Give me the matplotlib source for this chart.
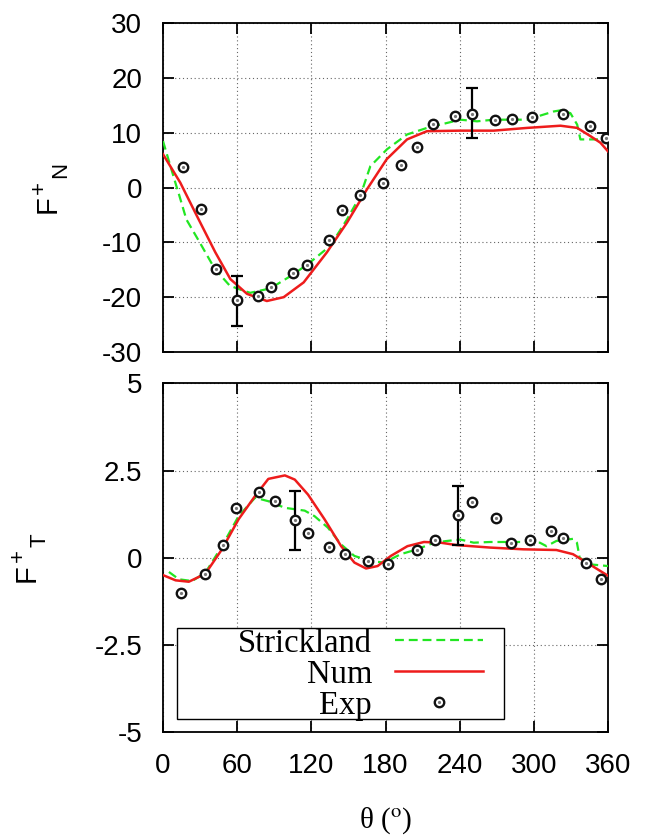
import matplotlib
matplotlib.use('Agg')
import matplotlib.pyplot as plt
from matplotlib.patches import Rectangle

# ---- datos ----
# F+N (panel superior)
exp_n_theta = [15.9, 30.5, 42.6, 59.6, 77.1, 87.6, 105.2, 116.8, 134.6, 144.8, 159.6, 178.2,
               192.8, 205.8, 218.2, 236.2, 249.7, 268.3, 282.6, 298.8, 323.8, 345.4, 358.6]
exp_n = [3.8, -3.9, -14.8, -20.6, -19.8, -18.2, -15.5, -14.2, -9.5, -4.1, -1.3, 0.8,
         4.1, 7.4, 11.6, 13.0, 13.5, 12.4, 12.5, 12.8, 13.4, 11.3, 9.1]
err_n_theta = [59.6, 249.7]
err_n_y = [-20.6, 13.5]
err_n_lo = [4.6, 4.5]
err_n_hi = [4.5, 4.7]

num_n_theta = [0, 14, 27.5, 42.3, 54.5, 68, 84, 97.6, 113.8, 132.6, 148.8, 165, 181, 197.4,
               213.5, 240.5, 267.5, 294.5, 321.5, 335, 345.7, 353.8, 360]
num_n = [6.1, 0.9, -5.2, -11.8, -16.7, -19.4, -20.7, -20.0, -17.3, -11.8, -6.4, -0.3, 5.2, 8.8,
         10.3, 10.4, 10.4, 10.9, 11.3, 10.9, 9.4, 8.2, 6.6]

str_n_theta = [0, 10.8, 12.1, 18.9, 29.7, 41.8, 54, 64.7, 70.6, 86.8, 105.7, 119.2, 135.4, 148.8,
               159.6, 167.7, 181.2, 197.4, 213.5, 229.7, 240.5, 254, 267.5, 294.5, 316, 321.4,
               329.5, 335, 337.6, 351, 360]
str_n = [8.5, 0.3, -0.6, -5.8, -10.0, -14.8, -17.9, -18.8, -19.2, -18.4, -15.8, -13.6, -10.6, -5.8,
         -1.5, 3.9, 7.0, 9.7, 10.9, 11.8, 12.4, 12.1, 12.4, 12.4, 13.9, 14.1,
         13.6, 11.5, 8.8, 8.8, 9.3]

# F+T (panel inferior)
exp_t_theta = [14.2, 34, 48.5, 58.9, 77.4, 90.3, 106.9, 117.6, 134.2, 147, 166, 181.9,
               205.4, 219.9, 238.7, 250.2, 269.5, 281.3, 296.8, 313.7, 323.6, 342, 354.6]
exp_t = [-1.0, -0.46, 0.35, 1.42, 1.88, 1.64, 1.07, 0.71, 0.31, 0.10, -0.10, -0.19,
         0.22, 0.52, 1.21, 1.59, 1.15, 0.41, 0.52, 0.76, 0.56, -0.16, -0.62]
err_t_theta = [106.9, 238.7]
err_t_y = [1.07, 1.21]
err_t_lo = [0.85, 0.85]
err_t_hi = [0.84, 0.84]

num_t_theta = [0, 10.2, 20.9, 34.3, 47.7, 61.1, 74.5, 85.2, 98.6, 106.6, 117.3, 130.7, 144.1,
               154.8, 164.2, 173.6, 184.3, 197.7, 211.1, 224.5, 237.9, 264.6, 291.4, 318.2,
               331.6, 345, 360]
num_t = [-0.50, -0.65, -0.69, -0.46, 0.24, 1.10, 1.77, 2.26, 2.36, 2.24, 1.81, 1.10, 0.33,
         -0.14, -0.31, -0.24, 0.05, 0.33, 0.45, 0.43, 0.36, 0.29, 0.24, 0.22,
         0.10, -0.19, -0.52]

str_t_theta = [4.8, 12.9, 23.6, 34.3, 47.7, 61.1, 74.5, 85.2, 98.6, 114.6, 122.6, 133.4, 144.1,
               154.8, 168.2, 178.9, 192.3, 205.7, 219.1, 229.8, 240.5, 251.3, 264.6, 291.4,
               304.8, 310.2, 318.2, 331.6, 334.8, 337, 345, 360]
str_t = [-0.41, -0.62, -0.67, -0.43, 0.33, 1.19, 1.72, 1.62, 1.43, 1.35, 1.19, 0.86, 0.38,
         0.05, -0.10, -0.14, 0.10, 0.24, 0.43, 0.48, 0.52, 0.43, 0.45, 0.45,
         0.43, 0.33, 0.48, 0.54, 0.43, 0.0, -0.19, -0.24]

x_ticks = [0, 60, 120, 180, 240, 300, 360]
yn_ticks = [-30, -20, -10, 0, 10, 20, 30]
yt_ticks = [-5, -2.5, 0, 2.5, 5]
yt_labels = ['-5', '-2.5', '0', '2.5', '5']

plt.rcParams['font.family'] = ['Liberation Sans', 'DejaVu Sans']
plt.rcParams['axes.unicode_minus'] = False

W, H = 646, 840
fig = plt.figure(figsize=(W / 100, H / 100), dpi=100)
ax_n = fig.add_axes([0.2523, 0.581, 0.689, 0.3913])
ax_t = fig.add_axes([0.2523, 0.1286, 0.689, 0.415])

green = '#22e622'
red = '#ee1c1c'


def style_axis(ax):
    ax.set_xlim(0, 360)
    ax.set_xticks(x_ticks)
    ax.grid(True, color='#666666', linewidth=0.8, linestyle=(0, (1, 2.5)))
    ax.set_axisbelow(True)
    ax.tick_params(direction='in', length=8, width=1.3, top=True, right=True,
                   labelsize=20, pad=15)
    for s in ax.spines.values():
        s.set_linewidth(1.3)


def draw_panel(ax, s_th, s_y, n_th, n_y, e_th, e_y, er_th, er_y, er_lo, er_hi):
    l_s, = ax.plot(s_th, s_y, color=green, linewidth=1.6, dashes=(4, 2.2), zorder=3)
    l_n, = ax.plot(n_th, n_y, color=red, linewidth=1.8, zorder=3)
    ax.errorbar(er_th, er_y, yerr=[er_lo, er_hi], fmt='none', ecolor='black',
                elinewidth=1.6, capsize=4, capthick=1.6, zorder=4)
    ring, = ax.plot(e_th, e_y, linestyle='none', marker='o', markersize=6.8,
                    markerfacecolor='white', markeredgecolor='#111111',
                    markeredgewidth=1.7, zorder=5)
    dot, = ax.plot(e_th, e_y, linestyle='none', marker='o', markersize=1.3,
                   markerfacecolor='#777777', markeredgecolor='#777777', zorder=6)
    return l_s, l_n, (ring, dot)


def rot_label(pieces):
    # etiqueta vertical armada a mano: (texto, x_px, y_px, tamaño)
    for txt, xp, yp, size in pieces:
        fig.text(xp / W, 1 - yp / H, txt, rotation=90, ha='center', va='center',
                 fontsize=size)


style_axis(ax_n)
draw_panel(ax_n, str_n_theta, str_n, num_n_theta, num_n, exp_n_theta, exp_n,
           err_n_theta, err_n_y, err_n_lo, err_n_hi)
ax_n.set_ylim(-30, 30)
ax_n.set_yticks(yn_ticks)
ax_n.tick_params(labelbottom=False)
rot_label([('F', 48, 204, 21), ('+', 39, 187, 16), ('N', 61, 170, 16)])

style_axis(ax_t)
h_s, h_n, h_e = draw_panel(ax_t, str_t_theta, str_t, num_t_theta, num_t, exp_t_theta, exp_t,
                           err_t_theta, err_t_y, err_t_lo, err_t_hi)
ax_t.set_ylim(-5, 5)
ax_t.set_yticks(yt_ticks)
ax_t.set_yticklabels(yt_labels)
rot_label([('F', 27, 573, 21), ('+', 18, 555, 16), ('T', 40, 540, 16)])

ax_t.set_xlabel(r'θ ($^{\rm o}$)', fontsize=21, family='Liberation Serif',
                math_fontfamily='stix')
ax_t.xaxis.set_label_coords(0.5, -0.21)

# Caja de la leyenda
ax_t.add_patch(Rectangle((0.0315, 0.0385), 0.7355, 0.2612, transform=ax_t.transAxes,
                         facecolor='white', edgecolor='black', linewidth=1.0, zorder=7))
leg = ax_t.legend([h_s, h_n, h_e], ['Strickland', 'Num', 'Exp'], loc='center right',
                  bbox_to_anchor=(0.719, 0.165), frameon=False, markerfirst=False,
                  borderpad=0, borderaxespad=0, labelspacing=0.02, handlelength=2.7,
                  handletextpad=0.7, prop={'family': 'Liberation Serif', 'size': 23.5})
leg.set_zorder(8)

fig.savefig('out.png', dpi=100)
